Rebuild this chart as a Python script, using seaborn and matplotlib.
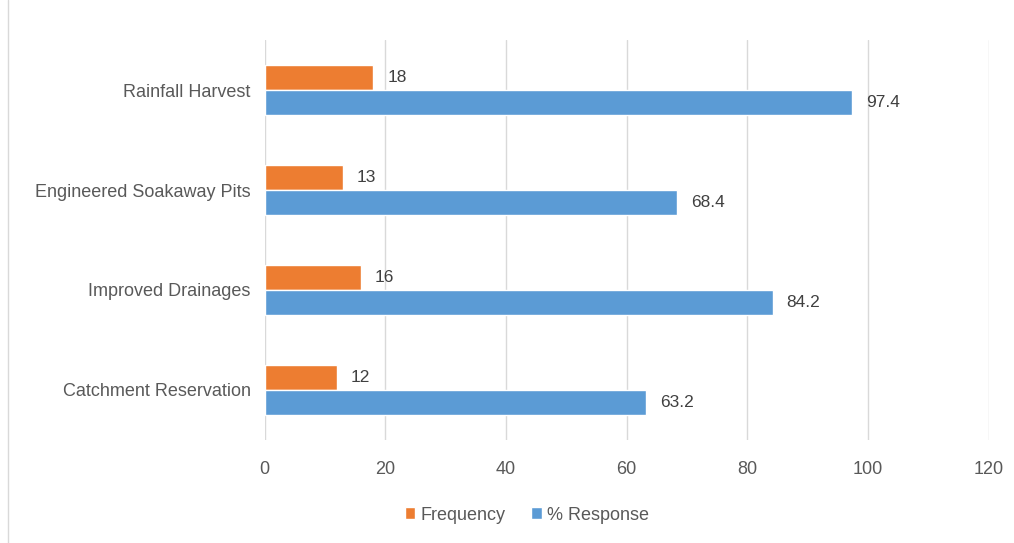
import matplotlib
matplotlib.use("Agg")
import matplotlib.pyplot as plt
from matplotlib.lines import Line2D
import pandas as pd
import seaborn as sns

categories = ["Rainfall Harvest", "Engineered Soakaway Pits", "Improved Drainages", "Catchment Reservation"]
frequency = [18, 13, 16, 12]
response = [97.4, 68.4, 84.2, 63.2]
series_names = ["Frequency", "% Response"]
x_ticks = [0, 20, 40, 60, 80, 100, 120]

df = pd.DataFrame({
    "Measure": categories * 2,
    "Series": [series_names[0]] * len(categories) + [series_names[1]] * len(categories),
    "Value": frequency + response,
})

sns.set_theme(style="white")
plt.rcParams["font.family"] = ["Liberation Sans", "DejaVu Sans"]
text_color = "#595959"

fig = plt.figure(figsize=(10.14, 5.43), dpi=100)
ax = fig.add_axes([0.261, 0.19, 0.714, 0.736])

palette = {"Frequency": "#ED7D31", "% Response": "#5B9BD5"}
sns.barplot(data=df, y="Measure", x="Value", hue="Series", order=categories,
            hue_order=series_names, palette=palette, orient="h", width=0.5,
            saturation=1, ax=ax, legend=True, zorder=3)

for container in ax.containers:
    ax.bar_label(container, fmt="%g", padding=10, fontsize=12.5, color="#404040")

ax.set_xlim(0, 120)
ax.set_ylim(3.5, -0.5)
ax.set_xticks(x_ticks)
ax.set_xticklabels([str(t) for t in x_ticks])
ax.grid(axis="x", color="#d9d9d9", linewidth=1, zorder=0)
ax.set_axisbelow(True)
for s in ax.spines.values():
    s.set_visible(False)
ax.tick_params(axis="both", length=0, labelsize=13, colors=text_color)
ax.tick_params(axis="x", pad=15)
ax.tick_params(axis="y", pad=10)
ax.set_xlabel("")
ax.set_ylabel("")

ax.legend(loc="center", bbox_to_anchor=(527 / 1014, 1 - 515 / 543),
          bbox_transform=fig.transFigure, ncol=2, frameon=False,
          fontsize=13, handlelength=0.6, handleheight=0.6, handletextpad=0.3,
          columnspacing=1.4, labelcolor=text_color)

fig.add_artist(Line2D([8 / 1014, 8 / 1014], [0, 1], transform=fig.transFigure,
                      color="#d9d9d9", linewidth=1))

fig.savefig("out.png", dpi=100, facecolor="white")
